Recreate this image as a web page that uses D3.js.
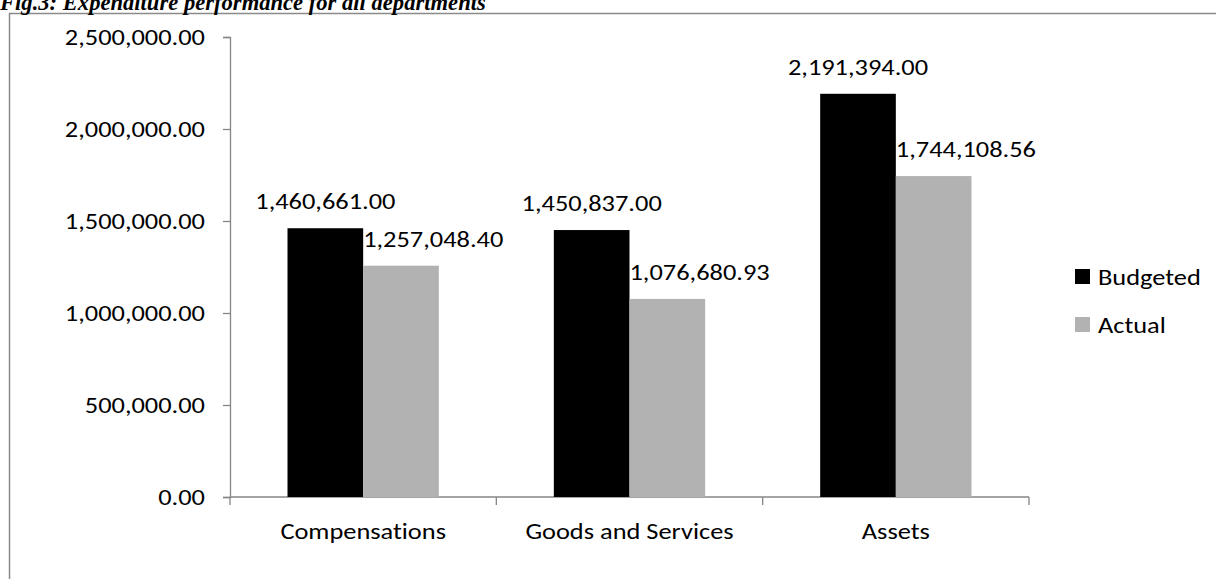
<!DOCTYPE html>
<html>
<head>
<meta charset="utf-8">
<script src="https://cdn.jsdelivr.net/npm/d3@7"></script>
<style>
  html, body { margin: 0; padding: 0; background: #fff; overflow: hidden; }
  svg { display: block; }
  .lbl { font-family: Carlito, Lato, "Open Sans", sans-serif; font-size: 22px; fill: #000; font-variant-ligatures: none; font-feature-settings: "liga" 0; }
  .title { font-family: "Liberation Serif", "Times New Roman", serif; font-weight: bold; font-style: italic; font-size: 22.6px; }
</style>
</head>
<body>
<svg id="chart" width="1216" height="579"></svg>
<script>
// Expenditure by category: budgeted vs actual
const categories = ["Compensations", "Goods and Services", "Assets"];
const seriesNames = ["Budgeted", "Actual"];
const budgeted = [1460661.00, 1450837.00, 2191394.00];
const actual = [1257048.40, 1076680.93, 1744108.56];
const yTicks = [0, 500000, 1000000, 1500000, 2000000, 2500000];
const seriesColors = ["#000000", "#b2b2b2"];

const svg = d3.select("#chart");
const axisColor = "#868686";
const stretch = 1.2; // wide label face

// place a text at (x, y) with the horizontal stretch applied around its anchor
function placeText(sel, xf, yf) {
  sel.attr("x", 0).attr("y", 0)
     .attr("transform", (d, i) => `translate(${xf(d, i)},${yf(d, i)}) scale(${stretch},1)`);
}

// chart frame
svg.append("rect")
  .attr("x", 9.5).attr("y", 13.5)
  .attr("width", 1300).attr("height", 700)
  .attr("fill", "none").attr("stroke", "#8a8a8a").attr("stroke-width", 1.5);

svg.append("text")
  .attr("class", "title")
  .attr("x", 0).attr("y", 10)
  .text("Fig.3: Expenditure performance for all departments");

const plot = { left: 230, right: 1029, top: 37, bottom: 497 };

const y = d3.scaleLinear().domain([0, 2500000]).range([plot.bottom, plot.top]);
const x0 = d3.scaleBand().domain(categories).range([plot.left, plot.right]).paddingInner(0).paddingOuter(0);
const x1 = d3.scaleBand().domain(seriesNames).range([0, x0.bandwidth()]).paddingInner(0).paddingOuter(0.76);
const color = d3.scaleOrdinal().domain(seriesNames).range(seriesColors);

const fmt = d3.format(",.2f");

// y axis
const yAxis = d3.axisLeft(y).tickValues(yTicks).tickSize(7).tickFormat(fmt);
const gy = svg.append("g").attr("transform", `translate(${plot.left},0)`).call(yAxis);
gy.select(".domain").attr("stroke", axisColor).attr("stroke-width", 1.3);
gy.selectAll(".tick line").attr("stroke", axisColor).attr("stroke-width", 1.3);
gy.selectAll(".tick text")
  .attr("class", "lbl").attr("font-family", null).attr("font-size", null)
  .attr("dy", "0.35em")
  .call(placeText, () => -25, () => 0);

// x axis with ticks at category boundaries
const xAxisLine = svg.append("g");
xAxisLine.append("line")
  .attr("x1", plot.left).attr("x2", plot.right)
  .attr("y1", plot.bottom).attr("y2", plot.bottom)
  .attr("stroke", axisColor).attr("stroke-width", 1.3);
const boundaries = categories.map(c => x0(c)).concat([x0(categories[categories.length - 1]) + x0.bandwidth()]);
xAxisLine.selectAll(".xt").data(boundaries).join("line")
  .attr("x1", d => d).attr("x2", d => d)
  .attr("y1", plot.bottom).attr("y2", plot.bottom + 8)
  .attr("stroke", axisColor).attr("stroke-width", 1.3);
xAxisLine.selectAll(".xl").data(categories).join("text")
  .attr("class", "lbl")
  .attr("text-anchor", "middle")
  .text(d => d)
  .call(placeText, d => x0(d) + x0.bandwidth() / 2, () => 539);

// bars
const rows = categories.map((c, i) => ({ category: c, values: [
  { series: "Budgeted", value: budgeted[i] },
  { series: "Actual", value: actual[i] }
]}));

const groups = svg.selectAll(".grp").data(rows).join("g")
  .attr("transform", d => `translate(${x0(d.category)},0)`);

groups.selectAll("rect").data(d => d.values).join("rect")
  .attr("x", d => x1(d.series))
  .attr("y", d => y(d.value))
  .attr("width", x1.bandwidth())
  .attr("height", d => y(0) - y(d.value))
  .attr("fill", d => color(d.series));

// value labels: budgeted centred over bar, actual starts at bar's left edge
groups.selectAll(".val").data(d => d.values).join("text")
  .attr("class", "lbl")
  .attr("text-anchor", d => d.series === "Budgeted" ? "middle" : "start")
  .text(d => fmt(d.value))
  .call(placeText,
    d => d.series === "Budgeted" ? x1(d.series) + x1.bandwidth() / 2 : x1(d.series),
    d => y(d.value) - 19);

// legend
const legend = svg.append("g").attr("transform", "translate(1075,269)");
const li = legend.selectAll("g").data(seriesNames).join("g")
  .attr("transform", (d, i) => `translate(0,${i * 48})`);
li.append("rect").attr("width", 15).attr("height", 15).attr("fill", d => color(d));
li.append("text").attr("class", "lbl").text(d => d)
  .call(placeText, () => 23, () => 16);
</script>
</body>
</html>
